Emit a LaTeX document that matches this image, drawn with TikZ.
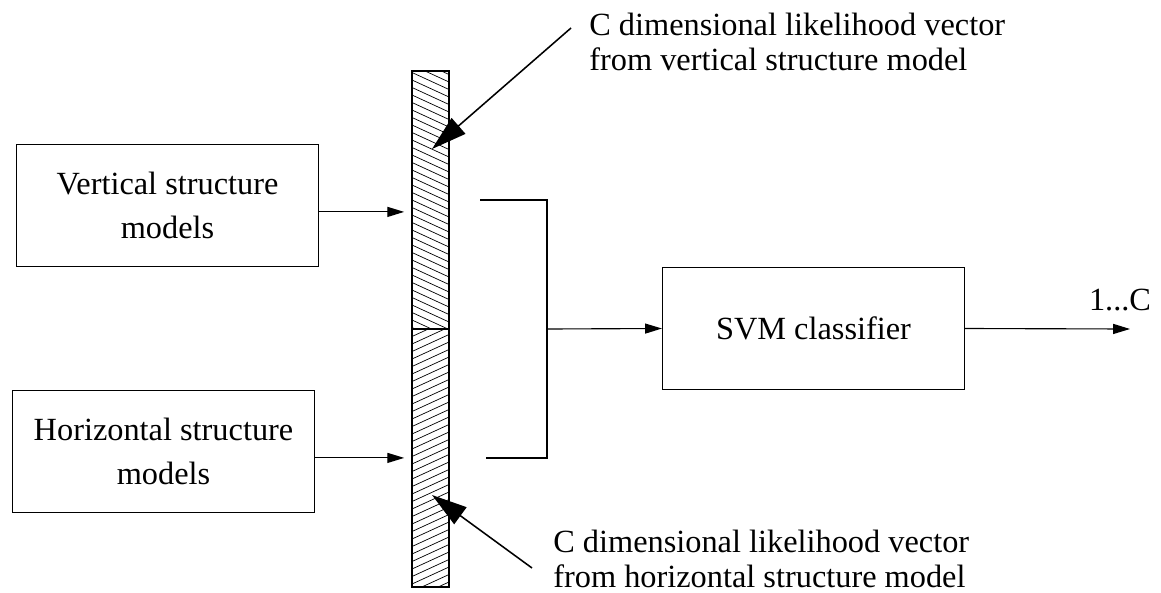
\documentclass[tikz,border=0pt]{standalone}
\usepackage{fontspec}
\setmainfont{Liberation Serif}
\usetikzlibrary{arrows.meta}

\tikzset{
  modelbox/.style={draw, line width=0.8pt, minimum width=7.55cm, minimum height=3.07cm,
                   align=center, inner sep=0pt, font=\fontsize{23}{31}\selectfont},
  barbox/.style={draw, line width=0.9pt, minimum width=0.925cm, minimum height=6.45cm, inner sep=0pt},
  lbl/.style={align=left, inner sep=0pt, font=\fontsize{23}{24.5}\selectfont},
  arr/.style={line width=0.8pt, -{Triangle[length=0.42cm,width=0.25cm]}},
  bigarr/.style={line width=1.1pt, -{Triangle[length=0.88cm,width=0.52cm]}}
}

\begin{document}
\begin{tikzpicture}[x=0.025cm,y=-0.025cm]

\useasboundingbox (0,0) rectangle (1161,592);

% model boxes
\node[modelbox] (vert) at (167.5,205.5) {Vertical structure\\models};
\node[modelbox] (horiz) at (163.5,451.5) {Horizontal structure\\models};
\node[modelbox] (svm) at (813.5,328.5) {SVM classifier};

% likelihood vector bar
\node[barbox] (bartop) at (430.5,200) {};
\node[barbox] (barbot) at (430.5,458) {};

% hatching, upper half
\begin{scope}
  \clip (bartop.south west) rectangle (bartop.north east);
  \foreach \y in {50,57.5,...,335}{
    \draw[line width=0.5pt] (412,\y) -- (449,\y+17);
  }
\end{scope}

% hatching, lower half
\begin{scope}
  \clip (barbot.south west) rectangle (barbot.north east);
  \foreach \y in {329,336.5,...,610}{
    \draw[line width=0.5pt] (412,\y) -- (449,\y-17);
  }
\end{scope}

% inputs to the bar
\draw[arr, shorten >=0.18cm] ([yshift=-0.16cm]vert.east) -- ([yshift=-0.16cm]vert.east -| bartop.west);
\draw[arr, shorten >=0.18cm] ([yshift=-0.16cm]horiz.east) -- ([yshift=-0.16cm]horiz.east -| barbot.west);

% bracket into the classifier
\coordinate (brtop) at (480,200);
\coordinate (brbot) at (486,458);
\coordinate (brjoin) at (547,329);
\draw[line width=0.8pt] (brtop) -| (brjoin) |- (brbot);
\draw[arr] (brjoin) -- (svm.west);

% output
\coordinate (outend) at (1130,329);
\draw[arr] (svm.east) -- (outend);
\node[lbl] (outlbl) at (1120,300) {1...C};

% callouts
\node[lbl, anchor=north west] (toplbl) at (589,13)
  {C dimensional likelihood vector\\from vertical structure model};
\node[lbl, anchor=north west] (botlbl) at (553,530)
  {C dimensional likelihood vector\\from horizontal structure model};

\coordinate (vstart) at (571,28);
\coordinate (vtip) at (432,149);
\coordinate (hstart) at (532,568);
\coordinate (htip) at (432,495);
\draw[bigarr] (vstart) -- (vtip);
\draw[bigarr] (hstart) -- (htip);

\end{tikzpicture}
\end{document}
